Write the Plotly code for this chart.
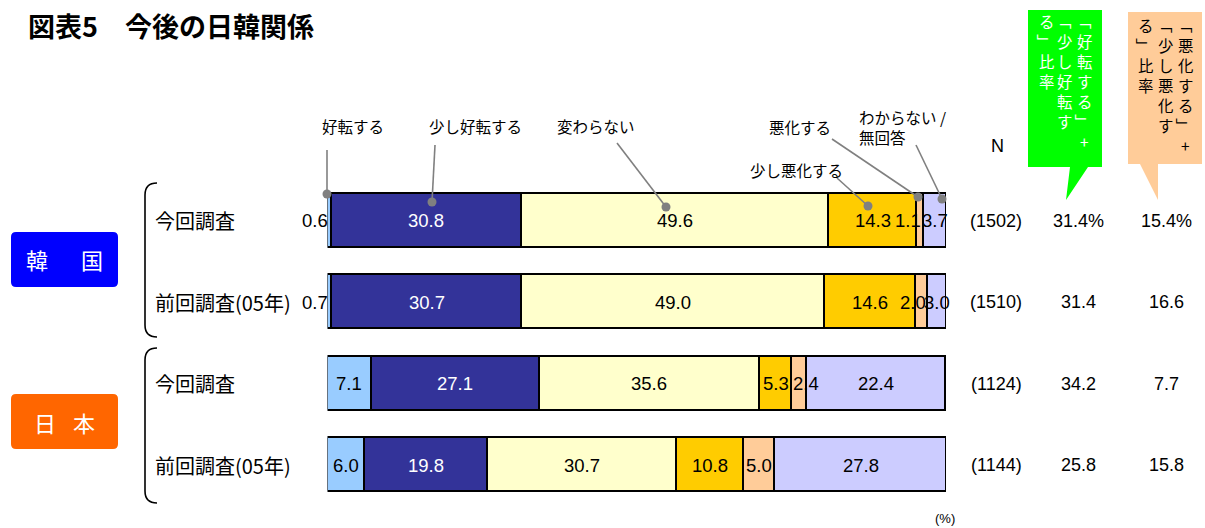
import plotly.graph_objects as go

# ---- data ---------------------------------------------------------------
row_labels = ["今回調査", "前回調査(05年)", "今回調査", "前回調査(05年)"]
series_names = ["好転する", "少し好転する", "変わらない", "少し悪化する", "悪化する", "わからない／無回答"]

koten = [0.6, 0.7, 7.1, 6.0]            # 好転する
sukoshi_koten = [30.8, 30.7, 27.1, 19.8]  # 少し好転する
kawaranai = [49.6, 49.0, 35.6, 30.7]     # 変わらない
sukoshi_akka = [14.3, 14.6, 5.3, 10.8]   # 少し悪化する
akka = [1.1, 2.0, 2.4, 5.0]              # 悪化する
wakaranai = [3.7, 3.0, 22.4, 27.8]       # わからない／無回答

n_counts = [1502, 1510, 1124, 1144]

# ---- style --------------------------------------------------------------
W, H = 1205, 528
X0_PX, X100_PX = 327.5, 946.0       # pixel span of 0..100 %
ROW0_PX, ROW_STEP_PX = 220.5, 81.5  # first row centre and row pitch
BAR_PX = 54

colors = ["#99CCFF", "#333399", "#FFFFCC", "#FFCC00", "#FFCC99", "#CCCCFF"]
label_colors = ["black", "white", "black", "black", "black", "black"]
# small horizontal nudges (px) for crowded value labels: (row, segment) -> shift
label_nudge = {(0, 4): -12, (1, 4): -8, (2, 4): 7}

CJK = "Noto Sans CJK JP"
NUM = "Liberation Sans, Arial, sans-serif"

series_values = [koten, sukoshi_koten, kawaranai, sukoshi_akka, akka, wakaranai]
rows = list(range(len(row_labels)))

fig = go.Figure()

for name, vals, col in zip(series_names, series_values, colors):
    fig.add_trace(go.Bar(
        y=rows, x=vals, orientation="h", name=name,
        marker=dict(color=col, line=dict(color="black", width=1.6)),
        width=BAR_PX / ROW_STEP_PX, hoverinfo="skip", showlegend=False,
    ))

annotations = []

# value labels inside / beside the segments
for r in rows:
    cum = 0.0
    for s, vals in enumerate(series_values):
        v = vals[r]
        if v < 1:
            annotations.append(dict(
                x=cum, y=r, xref="x", yref="y", text=f"{v:.1f}", showarrow=False,
                xanchor="right", xshift=2, font=dict(family=NUM, size=18.5, color="black")))
        else:
            annotations.append(dict(
                x=cum + v / 2, y=r, xref="x", yref="y", text=f"{v:.1f}", showarrow=False,
                xanchor="center", xshift=label_nudge.get((r, s), 0),
                font=dict(family=NUM, size=18.5, color=label_colors[s])))
        cum += v

# row labels, N and summary columns
for r in rows:
    good = koten[r] + sukoshi_koten[r]
    bad = sukoshi_akka[r] + akka[r]
    pct = "%" if r == 0 else ""
    annotations += [
        dict(x=153, y=r, xref="x2", yref="y", text=row_labels[r], showarrow=False,
             xanchor="left", font=dict(family=CJK, size=20, color="black")),
        dict(x=996, y=r, xref="x2", yref="y", text=f"({n_counts[r]})", showarrow=False,
             font=dict(family=NUM, size=18, color="black")),
        dict(x=1078, y=r, xref="x2", yref="y", text=f"{good:.1f}{pct}", showarrow=False,
             font=dict(family=NUM, size=18, color="black")),
        dict(x=1166, y=r, xref="x2", yref="y", text=f"{bad:.1f}{pct}", showarrow=False,
             font=dict(family=NUM, size=18, color="black")),
    ]

annotations += [
    dict(x=26, y=25, xref="x2", yref="y2", text="<b>図表5　今後の日韓関係</b>", showarrow=False,
         xanchor="left", font=dict(family=CJK, size=27, color="black")),
    dict(x=997, y=146, xref="x2", yref="y2", text="N", showarrow=False,
         font=dict(family=NUM, size=18, color="black")),
    dict(x=945, y=518, xref="x2", yref="y2", text="(%)", showarrow=False,
         font=dict(family=NUM, size=13, color="black")),
    # country boxes
    dict(x=37, y=259, xref="x2", yref="y2", text="韓", showarrow=False,
         font=dict(family=CJK, size=22, color="white")),
    dict(x=92, y=259, xref="x2", yref="y2", text="国", showarrow=False,
         font=dict(family=CJK, size=22, color="white")),
    dict(x=45, y=422, xref="x2", yref="y2", text="日", showarrow=False,
         font=dict(family=CJK, size=22, color="white")),
    dict(x=84, y=422, xref="x2", yref="y2", text="本", showarrow=False,
         font=dict(family=CJK, size=22, color="white")),
]

# category callouts: (text, text x, text y, anchor, line start, dot)
callouts = [
    ("好転する", 353, 126, "center", (327, 150), (327, 194)),
    ("少し好転する", 475, 126, "center", (435, 145), (432, 202)),
    ("変わらない", 596, 126, "center", (617, 143), (666, 207)),
    ("悪化する", 800, 127, "center", (832, 139), (918, 197)),
    ("わからない /<br>無回答", 857, 127, "left", (916, 145), (942, 199)),
    ("少し悪化する", 796, 170, "center", (837, 178), (868, 206)),
]

shapes = []
dot_x, dot_y = [], []
for text, tx, ty, anchor, start, dot in callouts:
    annotations.append(dict(x=tx, y=ty, xref="x2", yref="y2", text=text, showarrow=False,
                            xanchor=anchor, align="left",
                            font=dict(family=CJK, size=15.5, color="black")))
    shapes.append(dict(type="line", xref="x2", yref="y2", x0=start[0], y0=start[1],
                       x1=dot[0], y1=dot[1], line=dict(color="#808080", width=1.6), layer="above"))
    dot_x.append(dot[0])
    dot_y.append(dot[1])

# vertical-text speech boxes: columns read right to left, one glyph per cell
green_cols = [(1084, "「好転する」+"), (1064, "「少し好転す"), (1046, "る」比率")]
peach_cols = [(1185, "「悪化する」+"), (1165, "「少し悪化す"), (1145, "る」比率")]
V_PITCH = 20


def vertical_text(cols, top, color):
    out = []
    for cx, s in cols:
        for k, ch in enumerate(s):
            bracket = ch in "「」"
            out.append(dict(x=cx, y=top + k * V_PITCH, xref="x2", yref="y2", text=ch,
                            showarrow=False, textangle=90 if bracket else 0,
                            font=dict(family=CJK, size=15.4, color=color)))
    return out


annotations += vertical_text(green_cols, 21, "white")
annotations += vertical_text(peach_cols, 25, "black")

shapes += [
    dict(type="path", xref="x2", yref="y2", layer="below",
         path="M1028,10 H1102 V167 H1088 L1066,200 L1070,167 H1028 Z",
         fillcolor="#00FF00", line=dict(width=0)),
    dict(type="path", xref="x2", yref="y2", layer="below",
         path="M1128,12 H1202 V164 H1158 V200 L1140,164 H1128 Z",
         fillcolor="#FFCC99", line=dict(width=0)),
]


def rounded_rect(x0, y0, x1, y1, r):
    return (f"M{x0 + r},{y0} H{x1 - r} Q{x1},{y0} {x1},{y0 + r} V{y1 - r} "
            f"Q{x1},{y1} {x1 - r},{y1} H{x0 + r} Q{x0},{y1} {x0},{y1 - r} "
            f"V{y0 + r} Q{x0},{y0} {x0 + r},{y0} Z")


shapes += [
    dict(type="path", xref="x2", yref="y2", layer="below",
         path=rounded_rect(11, 232, 118, 287, 5), fillcolor="#0000FF", line=dict(width=0)),
    dict(type="path", xref="x2", yref="y2", layer="below",
         path=rounded_rect(11, 394, 118, 449, 5), fillcolor="#FF6600", line=dict(width=0)),
]

# group brackets
for top, bot in [(183, 337), (348, 503)]:
    shapes.append(dict(
        type="path", xref="x2", yref="y2", layer="above",
        path=f"M157,{top} Q145,{top} 145,{top + 12} V{bot - 12} Q145,{bot} 157,{bot}",
        line=dict(color="black", width=1.6)))

fig.add_trace(go.Scatter(
    x=dot_x, y=dot_y, xaxis="x2", yaxis="y2", mode="markers",
    marker=dict(color="#808080", size=9), hoverinfo="skip", showlegend=False, cliponaxis=False))

fig.update_layout(
    width=W, height=H, margin=dict(l=0, r=0, t=0, b=0),
    barmode="stack", bargap=0,
    paper_bgcolor="white", plot_bgcolor="rgba(0,0,0,0)",
    xaxis=dict(domain=[X0_PX / W, X100_PX / W], range=[0, 100], visible=False, fixedrange=True),
    yaxis=dict(domain=[0, 1], range=[(H - ROW0_PX) / ROW_STEP_PX, -ROW0_PX / ROW_STEP_PX],
               visible=False, fixedrange=True),
    xaxis2=dict(domain=[0, 1], range=[0, W], visible=False, anchor="y2", fixedrange=True),
    yaxis2=dict(domain=[0, 1], range=[H, 0], visible=False, anchor="x2", fixedrange=True),
    annotations=annotations, shapes=shapes, showlegend=False,
)

fig.write_html("out.html", config={"displayModeBar": False})
